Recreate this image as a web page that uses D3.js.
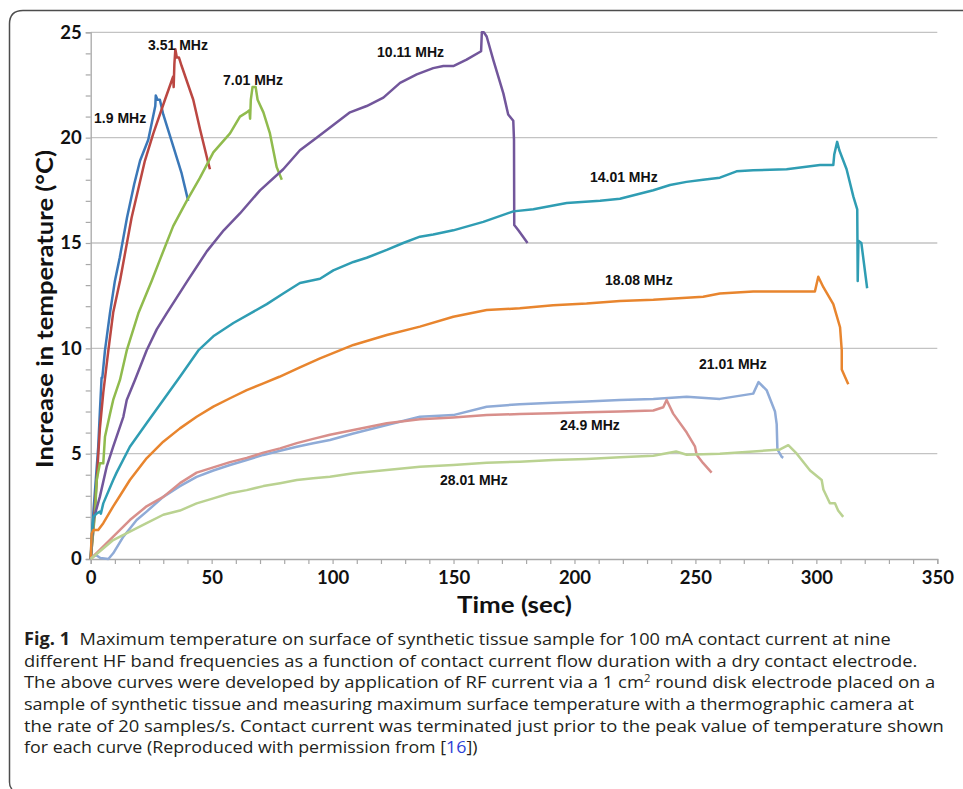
<!DOCTYPE html>
<html>
<head>
<meta charset="utf-8">
<script src="https://cdn.jsdelivr.net/npm/d3@7"></script>
<style>
  body { margin: 0; background: #fff; }
  svg { display: block; }
</style>
</head>
<body>
<svg id="chart"></svg>
<script>
// series: [time (s), temperature rise (°C)]
const f1_9 = [[0,0],[1.1,2.2],[3.1,5.3],[3.8,7.0],[4.5,8.6],[4.8,8.6],[5.9,9.9],[8,11.7],[10,13.2],[12,14.3],[15,16.2],[18,17.8],[20.4,18.9],[23.8,19.9],[26.7,21.5],[26.9,22.0],[27.6,21.8],[28.6,21.8],[30,21.1],[34.1,19.6],[37.6,18.3],[40.3,17.0]]
const f3_51 = [[0,0],[1.1,1.4],[2.5,3.75],[3.8,6.2],[5.2,7.9],[7.3,9.9],[9.3,11.7],[12.1,13.2],[16.9,16.2],[22.4,18.9],[25.9,20.2],[30.7,21.8],[34.1,22.9],[34.3,22.4],[34.6,23.5],[35,24.2],[35.6,23.8],[36.5,23.8],[37.6,23.4],[42.4,21.8],[45.2,20.4],[48.6,18.8],[49.3,18.5]]
const f7_01 = [[0,0],[1.8,2.2],[2.5,3.75],[3.8,4.54],[5.2,4.54],[5.9,5.8],[8,6.9],[9.3,7.55],[12.1,8.5],[14.9,9.9],[19.7,11.66],[25.2,13.2],[28.6,14.2],[34.1,15.8],[39.7,17.0],[45.2,18.1],[50.7,19.3],[57.6,20.2],[61.7,21.0],[64.5,21.2],[65.6,21.3],[65.9,20.9],[66.2,21.8],[66.9,22.4],[68.2,22.4],[69,21.8],[71.4,21.2],[74.1,20.2],[76.9,18.6],[79,18.0]]
const f10_11 = [[0,0],[1.1,1.85],[3.8,2.96],[6.6,4.38],[9.3,5.33],[13.5,6.75],[14.9,7.55],[18.3,8.5],[23.1,9.9],[27.3,10.9],[31.4,11.66],[40,13.2],[48,14.6],[55,15.6],[61.7,16.4],[70,17.5],[79.6,18.5],[86.5,19.4],[93.4,20.0],[100.3,20.6],[107.2,21.2],[114.1,21.5],[121,21.9],[127.9,22.6],[134.8,23.0],[141.6,23.3],[145.8,23.4],[149.9,23.4],[155.4,23.7],[161.4,24.1],[161.7,25.0],[162.5,25.0],[163.7,24.8],[166.4,23.7],[170.6,22.1],[172.6,21.1],[174.7,20.8],[175,19.9],[175.1,15.85],[176.8,15.6],[180.6,15.0]]
const f14_01 = [[0,0],[0.4,1.06],[1.1,2.0],[2.5,2.17],[3.8,2.25],[4.2,2.15],[5.2,2.64],[9.3,3.75],[10.7,4.1],[16.2,5.33],[23.1,6.44],[30,7.55],[36.9,8.65],[44.5,9.9],[51,10.6],[59,11.2],[72.8,12.1],[79.6,12.6],[86.5,13.1],[94.8,13.3],[100.3,13.7],[108.6,14.1],[114.1,14.3],[122.4,14.67],[129.2,15.0],[136.1,15.3],[141.6,15.4],[149.9,15.6],[162.3,16.0],[174.7,16.5],[183,16.6],[196.8,16.9],[210.6,17.0],[218.8,17.1],[225.7,17.3],[232.6,17.5],[239.5,17.75],[246.3,17.9],[253.2,18.0],[260.1,18.1],[267,18.4],[273.9,18.45],[287.7,18.5],[301.5,18.7],[307,18.7],[307.4,19.2],[308.6,19.8],[309.5,19.4],[312.5,18.5],[315.3,17.2],[316.9,16.6],[317.1,13.2],[317.4,15.1],[318.6,15.0],[321,12.85]]
const f18_08 = [[0,0],[0.4,1.2],[1.1,1.38],[3.1,1.38],[5.2,1.7],[9.3,2.5],[12.1,3.0],[16.2,3.75],[23.1,4.78],[30,5.57],[36.9,6.2],[43.8,6.75],[50.7,7.23],[57.6,7.63],[64.5,8.02],[71.4,8.34],[78,8.65],[86.5,9.1],[94.8,9.52],[108.6,10.16],[122.4,10.63],[136.1,11.03],[149.9,11.5],[163.7,11.82],[177.4,11.9],[191.2,12.05],[205,12.13],[218.8,12.25],[232.6,12.3],[246.4,12.4],[253.2,12.45],[260.1,12.6],[267,12.65],[273.9,12.7],[287.7,12.7],[299.4,12.7],[300.2,13.1],[300.8,13.4],[302.9,12.9],[307,12.1],[309.8,11.0],[310.5,9.9],[310.5,9.0],[313.2,8.3]]
const f21_01 = [[0,0],[2,0.2],[4,0.05],[7.3,0],[9.3,0.27],[13.5,1.06],[19,1.85],[23.1,2.25],[30,2.95],[36.9,3.46],[43.8,3.9],[50.7,4.2],[57.6,4.46],[64.5,4.7],[71.4,4.94],[78.3,5.14],[85.2,5.33],[92,5.49],[98.9,5.65],[108.6,5.96],[122.4,6.36],[136.1,6.75],[149.9,6.83],[163.7,7.23],[177.4,7.35],[191.2,7.42],[205,7.47],[218.8,7.55],[232.6,7.6],[246.4,7.7],[260.1,7.6],[273.9,7.85],[276.1,8.4],[279.5,8.0],[282.9,7.0],[283.6,6.4],[283.9,5.2],[285.7,4.85],[286.3,4.8]]
const f24_9 = [[0,0],[9.3,1.06],[16.2,1.85],[23.1,2.5],[30,2.95],[36.9,3.6],[43.8,4.1],[50.7,4.35],[57.6,4.6],[64.5,4.8],[71.4,5.05],[78.3,5.25],[85.2,5.5],[92,5.7],[98.9,5.9],[108.6,6.12],[122.4,6.44],[136.1,6.63],[149.9,6.72],[163.7,6.83],[177.4,6.88],[191.2,6.92],[205,6.97],[218.8,7.0],[232.6,7.05],[236.7,7.2],[238.1,7.55],[240.8,6.9],[246.4,6.0],[249.8,5.35],[250.5,4.95],[253.2,4.55],[256.7,4.1]]
const f28_01 = [[0,0],[9.3,0.9],[16.2,1.3],[23.1,1.7],[30,2.1],[36.9,2.3],[43.8,2.64],[50.7,2.88],[57.6,3.12],[64.5,3.27],[71.4,3.46],[78.3,3.6],[85.2,3.75],[92,3.83],[98.9,3.9],[108.6,4.07],[122.4,4.22],[136.1,4.38],[149.9,4.46],[163.7,4.57],[177.4,4.62],[191.2,4.7],[205,4.75],[218.8,4.83],[232.6,4.9],[242,5.1],[246.4,4.95],[260.1,5.0],[273.9,5.1],[285,5.2],[288.4,5.4],[291.9,5.0],[297.4,4.2],[302.2,3.75],[302.9,3.3],[305.6,2.65],[307.7,2.65],[309,2.3],[311.1,2.0]]

const seriesNames = ['1.9 MHz', '3.51 MHz', '7.01 MHz', '10.11 MHz', '14.01 MHz', '18.08 MHz', '21.01 MHz', '24.9 MHz', '28.01 MHz']
const seriesData = [f1_9, f3_51, f7_01, f10_11, f14_01, f18_08, f21_01, f24_9, f28_01]
// where each curve label sits, in data units (left edge, baseline)
const labelAt = [[1.4,20.7],[23.7,24.16],[54.7,22.5],[118.4,23.83],[206.4,17.9],[212.6,13.0],[251.5,9.02],[194,6.12],[144.4,3.51]]

const yMajor = [0, 5, 10, 15, 20, 25]
const xMajor = [0, 50, 100, 150, 200, 250, 300, 350]

const colors = ['#3b78b8', '#bb4742', '#90bb4d', '#72569b', '#2f9db3', '#e8852e', '#8fabd7', '#d88f8b', '#bad291']

const W = 963, H = 789

const svg = d3.select('#chart').attr('width', W).attr('height', H)
svg.append('rect').attr('width', W).attr('height', H).attr('fill', '#fff')

// frame round the figure
svg.append('path')
  .attr('d', 'M12,789 Q9.5,787 9.5,782 V24 Q9.5,10.5 23,10.5 H963')
  .attr('fill', 'none').attr('stroke', '#4d4d4d').attr('stroke-width', 1.5)

const x = d3.scaleLinear().domain([0, 350]).range([90.7, 937.3])
const y = d3.scaleLinear().domain([0, 25]).range([559, 32.3])

// gridlines
svg.append('g')
  .selectAll('line')
  .data(yMajor.filter((d) => d > 0))
  .join('line')
  .attr('x1', x(0)).attr('x2', x(350))
  .attr('y1', (d) => y(d)).attr('y2', (d) => y(d))
  .attr('stroke', '#c3c3c3').attr('stroke-width', 1.3)

const tickFont = 'Lato, "Open Sans", sans-serif'

const yAxis = svg.append('g')
  .attr('transform', `translate(${x(0)},0)`)
  .call(d3.axisLeft(y).tickValues(d3.range(0, 26, 1)).tickSize(5).tickPadding(4)
    .tickFormat((d) => (yMajor.includes(d) ? d : '')))
const xAxis = svg.append('g')
  .attr('transform', `translate(0,${y(0)})`)
  .call(d3.axisBottom(x).tickValues(d3.range(0, 351, 10)).tickSize(5).tickPadding(7)
    .tickFormat((d) => (xMajor.includes(d) ? d : '')))

;[yAxis, xAxis].forEach((a) => {
  a.select('.domain').attr('stroke', '#a8a8a8').attr('stroke-width', 1.3)
  a.selectAll('.tick line').attr('stroke', '#a8a8a8').attr('stroke-width', 1.2)
  a.selectAll('.tick text')
    .attr('fill', '#111')
    .style('font-family', tickFont)
    .style('font-weight', 'bold')
    .style('font-size', '18.5px')
})

// axis titles, stretched to the width they take in the figure
const yTitle = svg.append('text')
  .attr('text-anchor', 'middle')
  .style('font-family', tickFont).style('font-weight', 'bold').style('font-size', '23px')
  .attr('fill', '#111')
  .text('Increase in temperature (°C)')
const yw = yTitle.node().getComputedTextLength()
yTitle.attr('transform', `translate(53,309) rotate(-90) scale(${318 / yw},1)`)

const xTitle = svg.append('text')
  .attr('text-anchor', 'middle')
  .style('font-family', tickFont).style('font-weight', 'bold').style('font-size', '23px')
  .attr('fill', '#111')
  .text('Time (sec)')
const xw = xTitle.node().getComputedTextLength()
xTitle.attr('transform', `translate(514.5,613) scale(${115 / xw},1)`)

// curves
const line = d3.line().x((d) => x(d[0])).y((d) => y(d[1]))

svg.append('g')
  .selectAll('path')
  .data(seriesData)
  .join('path')
  .attr('d', line)
  .attr('fill', 'none')
  .attr('stroke', (d, i) => colors[i])
  .attr('stroke-width', 2.5)
  .attr('stroke-linejoin', 'round')

svg.append('g')
  .selectAll('text')
  .data(seriesNames)
  .join('text')
  .attr('x', (d, i) => x(labelAt[i][0]))
  .attr('y', (d, i) => y(labelAt[i][1]))
  .style('font-family', '"Liberation Sans", Arial, sans-serif')
  .style('font-weight', 'bold')
  .style('font-size', '14px')
  .attr('fill', '#111')
  .text((d) => d)

// caption
const capLines = [
  { bold: 'Fig. 1', text: '\u00a0\u00a0Maximum temperature on surface of synthetic tissue sample for 100 mA contact current at nine', end: 891 },
  { text: 'different HF band frequencies as a function of contact current flow duration with a dry contact electrode.', end: 918 },
  { text: 'The above curves were developed by application of RF current via a 1 cm', sup: '2', rest: ' round disk electrode placed on a', end: 936 },
  { text: 'sample of synthetic tissue and measuring maximum surface temperature with a thermographic camera at', end: 915 },
  { text: 'the rate of 20 samples/s. Contact current was terminated just prior to the peak value of temperature shown', end: 945 },
  { text: 'for each curve (Reproduced with permission from [', ref: '16', rest: '])', end: 478 }
]

const cap = svg.append('g')
  .style('font-family', '"Open Sans", sans-serif')
  .style('font-size', '17px')
  .attr('fill', '#231f20')

capLines.forEach((l, i) => {
  const t = cap.append('text')
  if (l.bold) t.append('tspan').style('font-weight', 'bold').text(l.bold)
  t.append('tspan').text(l.text)
  if (l.sup) {
    t.append('tspan').attr('dy', -6).style('font-size', '10.5px').text(l.sup)
    t.append('tspan').attr('dy', 6).text(l.rest)
  }
  if (l.ref) {
    t.append('tspan').attr('fill', '#2d3fd6').text(l.ref)
    t.append('tspan').text(l.rest)
  }
  const w = t.node().getBBox().width
  t.attr('transform', `translate(24,${645 + i * 21.67}) scale(${(l.end - 24) / w},1)`)
})
</script>
</body>
</html>
